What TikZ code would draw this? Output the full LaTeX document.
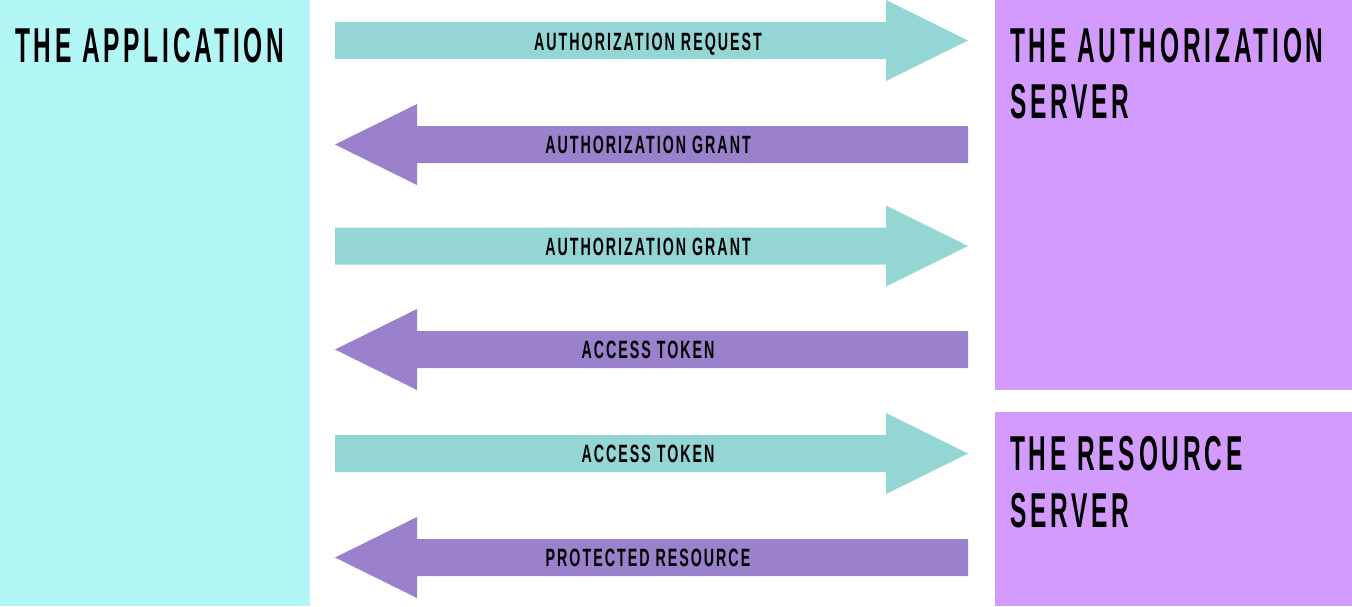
\documentclass[tikz,border=0pt]{standalone}
\usepackage{fontspec}
\newfontfamily\titlefont{Liberation Sans}[FakeStretch=0.5,LetterSpace=7.7]
\newfontfamily\labelfont{Liberation Sans}[FakeStretch=0.57,LetterSpace=8]
\definecolor{apppanel}{RGB}{178,246,246}
\definecolor{srvpanel}{RGB}{210,155,253}
\definecolor{tealarrow}{RGB}{147,214,211}
\definecolor{purparrow}{RGB}{155,128,204}
\tikzset{
  titletext/.style={anchor=base west,inner sep=0pt,font=\titlefont\bfseries\fontsize{49}{56}\selectfont,text=black},
  arrowlabel/.style={anchor=base,inner sep=0pt,font=\labelfont\bfseries\fontsize{25}{28}\selectfont,text=black},
}
\newcommand{\rightarrowshape}[2]{%
  \fill[#2] (335,#1-18.5) -- (886,#1-18.5) -- (886,#1-40.5) -- (968,#1) -- (886,#1+40.5) -- (886,#1+18.5) -- (335,#1+18.5) -- cycle;}
\newcommand{\leftarrowshape}[2]{%
  \fill[#2] (968,#1-18.5) -- (417,#1-18.5) -- (417,#1-40.5) -- (335,#1) -- (417,#1+40.5) -- (417,#1+18.5) -- (968,#1+18.5) -- cycle;}
\begin{document}
\begin{tikzpicture}[x=1pt,y=-1pt]
\useasboundingbox (0,0) rectangle (1352,606);
\fill[white] (0,0) rectangle (1352,606);
% panels
\fill[apppanel] (0,0) rectangle (310,606);
\fill[srvpanel] (995,0) rectangle (1352,390);
\fill[srvpanel] (995,412) rectangle (1352,606);
% panel titles
\node[titletext] (app) at (15,62) {THE APPLICATION};
\node[titletext] (auth1) at (1010,62) {THE AUTHORIZATION};
\node[titletext] (auth2) at (1010,118) {SERVER};
\node[titletext] (res1) at (1010,470) {THE RESOURCE};
\node[titletext] (res2) at (1010,527) {SERVER};
% arrows
\rightarrowshape{40.5}{tealarrow}
\leftarrowshape{144.5}{purparrow}
\rightarrowshape{246}{tealarrow}
\leftarrowshape{349.5}{purparrow}
\rightarrowshape{453.5}{tealarrow}
\leftarrowshape{557.5}{purparrow}
% labels
\node[arrowlabel] (l1) at (648,50) {AUTHORIZATION REQUEST};
\node[arrowlabel] (l2) at (648,153.5) {AUTHORIZATION GRANT};
\node[arrowlabel] (l3) at (648,255) {AUTHORIZATION GRANT};
\node[arrowlabel] (l4) at (648,358.5) {ACCESS TOKEN};
\node[arrowlabel] (l5) at (648,462.5) {ACCESS TOKEN};
\node[arrowlabel] (l6) at (648,566.5) {PROTECTED RESOURCE};
\end{tikzpicture}
\end{document}
